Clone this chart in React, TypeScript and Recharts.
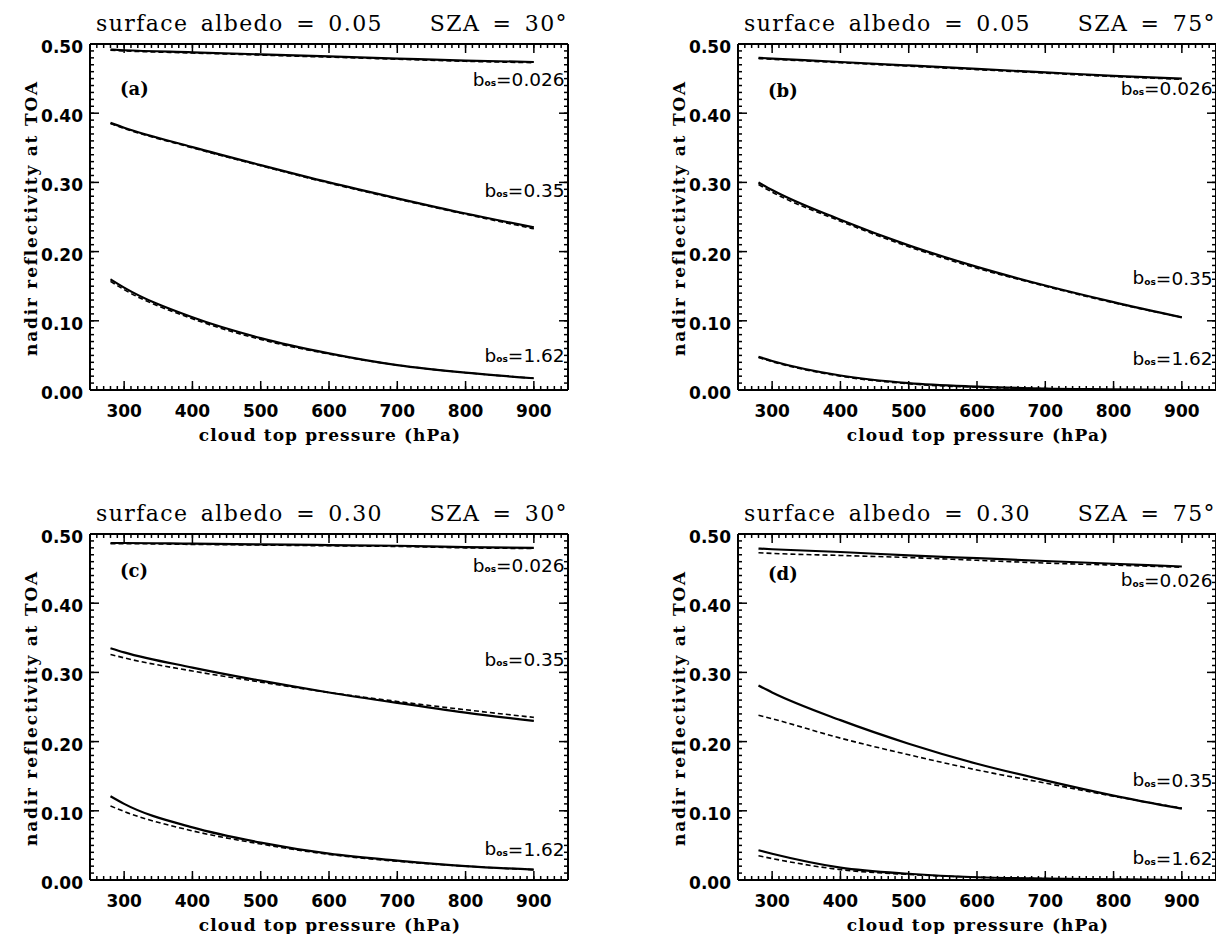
import { LineChart, Line, XAxis, YAxis, ReferenceDot } from 'recharts';

// cloud top pressure (hPa) sampled along every curve
const pressure = [280, 300, 400, 500, 600, 700, 800, 900];

// (a) surface albedo 0.05, SZA 30
const aSolid026 = [0.492, 0.491, 0.488, 0.485, 0.482, 0.479, 0.476, 0.474];
const aDash026 = [0.491, 0.490, 0.487, 0.484, 0.481, 0.478, 0.475, 0.473];
const aSolid035 = [0.386, 0.379, 0.351, 0.325, 0.300, 0.277, 0.255, 0.235];
const aDash035 = [0.385, 0.378, 0.350, 0.324, 0.299, 0.276, 0.254, 0.233];
const aSolid162 = [0.160, 0.148, 0.105, 0.075, 0.053, 0.036, 0.025, 0.017];
const aDash162 = [0.157, 0.145, 0.103, 0.073, 0.052, 0.036, 0.025, 0.017];

// (b) surface albedo 0.05, SZA 75
const bSolid026 = [0.480, 0.479, 0.474, 0.469, 0.464, 0.459, 0.454, 0.450];
const bDash026 = [0.479, 0.478, 0.473, 0.468, 0.463, 0.458, 0.453, 0.449];
const bSolid035 = [0.300, 0.289, 0.246, 0.209, 0.178, 0.151, 0.127, 0.105];
const bDash035 = [0.297, 0.286, 0.244, 0.207, 0.176, 0.150, 0.126, 0.105];
const bSolid162 = [0.048, 0.042, 0.021, 0.010, 0.005, 0.002, 0.001, 0.000];
const bDash162 = [0.047, 0.041, 0.020, 0.009, 0.004, 0.002, 0.000, 0.000];

// (c) surface albedo 0.30, SZA 30
const cSolid026 = [0.487, 0.487, 0.486, 0.485, 0.484, 0.483, 0.481, 0.480];
const cDash026 = [0.486, 0.486, 0.485, 0.484, 0.483, 0.482, 0.480, 0.479];
const cSolid035 = [0.335, 0.329, 0.307, 0.288, 0.271, 0.256, 0.242, 0.230];
const cDash035 = [0.326, 0.321, 0.302, 0.286, 0.271, 0.258, 0.246, 0.235];
const cSolid162 = [0.121, 0.110, 0.076, 0.054, 0.038, 0.028, 0.020, 0.015];
const cDash162 = [0.107, 0.099, 0.071, 0.052, 0.037, 0.027, 0.020, 0.015];

// (d) surface albedo 0.30, SZA 75
const dSolid026 = [0.479, 0.478, 0.474, 0.469, 0.465, 0.461, 0.457, 0.453];
const dDash026 = [0.473, 0.472, 0.469, 0.466, 0.462, 0.458, 0.455, 0.452];
const dSolid035 = [0.281, 0.271, 0.231, 0.197, 0.168, 0.144, 0.122, 0.103];
const dDash035 = [0.238, 0.233, 0.205, 0.181, 0.159, 0.140, 0.121, 0.104];
const dSolid162 = [0.043, 0.038, 0.018, 0.009, 0.004, 0.002, 0.001, 0.000];
const dDash162 = [0.035, 0.031, 0.015, 0.008, 0.004, 0.002, 0.001, 0.000];

// annotation heights (value units): panel tag, b=0.026, b=0.35, b=1.62
const aNotes = [0.436, 0.449, 0.289, 0.050];
const bNotes = [0.433, 0.436, 0.162, 0.046];
const cNotes = [0.447, 0.455, 0.319, 0.045];
const dNotes = [0.443, 0.434, 0.145, 0.032];
const bValues = ['0.026', '0.35', '1.62'];

const xMajor = [300, 400, 500, 600, 700, 800, 900];
const yMajor = ['0.00', '0.10', '0.20', '0.30', '0.40', '0.50'];

const xTicks: number[] = [];
for (let v = 260; v <= 940; v += 10) xTicks.push(v);
const yTicks: number[] = [];
for (let i = 0; i <= 50; i++) yTicks.push(i / 100);

const isMajorX = (v: number) => xMajor.includes(v);
const isMajorY = (v: number) => yMajor.includes(v.toFixed(2));

const tickFont = { fontFamily: 'DejaVu Sans', fontWeight: 700, fontSize: 17 };
const axisStroke = { stroke: '#000', strokeWidth: 2 };
const minorTick = { stroke: '#000', strokeWidth: 1.5 };

// recharts draws the short (minor) inward tick, these add the long ones and labels
const BottomTick = ({ x, y, payload }: any) => {
  const major = isMajorX(payload.value);
  return (
    <g>
      {major && <line x1={x} x2={x} y1={y} y2={y - 9} stroke="#000" strokeWidth={1.5} />}
      {major && (
        <text x={x} y={y + 27} textAnchor="middle" fill="#000" {...tickFont}>
          {payload.value}
        </text>
      )}
    </g>
  );
};

const TopTick = ({ x, y, payload }: any) =>
  isMajorX(payload.value) ? <line x1={x} x2={x} y1={y} y2={y + 9} stroke="#000" strokeWidth={1.5} /> : <g />;

const LeftTick = ({ x, y, payload }: any) => {
  const major = isMajorY(payload.value);
  return (
    <g>
      {major && <line x1={x} x2={x + 9} y1={y} y2={y} stroke="#000" strokeWidth={1.5} />}
      {major && (
        <text x={x - 7} y={y + 9} textAnchor="end" fill="#000" {...tickFont}>
          {payload.value.toFixed(2)}
        </text>
      )}
    </g>
  );
};

const RightTick = ({ x, y, payload }: any) =>
  isMajorY(payload.value) ? <line x1={x} x2={x - 9} y1={y} y2={y} stroke="#000" strokeWidth={1.5} /> : <g />;

const tagLabel = (tag: string) => ({ viewBox }: any) => (
  <text x={viewBox.x} y={viewBox.y} dominantBaseline="central" fontFamily="DejaVu Serif"
    fontWeight={700} fontSize={18} fill="#000">
    ({tag})
  </text>
);

const bLabel = (val: string) => ({ viewBox }: any) => (
  <text x={viewBox.x} y={viewBox.y} dominantBaseline="central" textAnchor="end"
    fontFamily="DejaVu Sans" fontSize={18.5} fill="#000">
    b<tspan fontSize={9} fontWeight={700} dy={4}>os</tspan>
    <tspan dy={-4}>={val}</tspan>
  </text>
);

interface PanelProps {
  left: number;
  top: number;
  albedo: string;
  sza: string;
  tag: string;
  solid: number[][];
  dashed: number[][];
  notes: number[];
}

const titleStyle = {
  position: 'absolute' as const, top: 13, fontFamily: 'DejaVu Serif', fontSize: 22,
  lineHeight: '22px', whiteSpace: 'pre' as const, letterSpacing: 1.4, wordSpacing: 4,
};

const Panel = ({ left, top, albedo, sza, tag, solid, dashed, notes }: PanelProps) => {
  const rows = pressure.map((p, i) => ({
    p,
    s0: solid[0][i], s1: solid[1][i], s2: solid[2][i],
    d0: dashed[0][i], d1: dashed[1][i], d2: dashed[2][i],
  }));

  return (
    <div style={{ position: 'absolute', left, top, width: 577, height: 446 }}>
      <div style={{ ...titleStyle, left: 96 }}>{`surface albedo = ${albedo}`}</div>
      <div style={{ ...titleStyle, right: 9 }}>{`SZA = ${sza}°`}</div>
      <div style={{ position: 'absolute', left: 31, top: 218, transform: 'translate(-50%, -50%) rotate(-90deg)',
        fontFamily: 'DejaVu Serif', fontWeight: 700, fontSize: 17, letterSpacing: 1.8, whiteSpace: 'nowrap' }}>
        nadir reflectivity at TOA
      </div>
      <div style={{ position: 'absolute', left: 330, top: 435, transform: 'translate(-50%, -50%)',
        fontFamily: 'DejaVu Serif', fontWeight: 700, fontSize: 17, letterSpacing: 1.1, whiteSpace: 'nowrap' }}>
        cloud top pressure (hPa)
      </div>
      <LineChart width={577} height={446} data={rows} margin={{ top: 43, right: 8, bottom: 0, left: 0 }}>
        <XAxis xAxisId="b" dataKey="p" type="number" domain={[250, 950]} ticks={xTicks} interval={0}
          height={56} tickSize={-4} tickMargin={4} tickLine={minorTick} axisLine={axisStroke} tick={<BottomTick />} />
        <XAxis xAxisId="t" dataKey="p" type="number" orientation="top" domain={[250, 950]} ticks={xTicks}
          interval={0} height={1} tickSize={-4} tickMargin={4} tickLine={minorTick} axisLine={axisStroke}
          tick={<TopTick />} />
        <YAxis yAxisId="l" type="number" domain={[0, 0.5]} ticks={yTicks} interval={0} width={90}
          tickSize={-4} tickMargin={4} tickLine={minorTick} axisLine={axisStroke} tick={<LeftTick />} />
        <YAxis yAxisId="r" type="number" orientation="right" domain={[0, 0.5]} ticks={yTicks} interval={0}
          width={1} tickSize={-4} tickMargin={4} tickLine={minorTick} axisLine={axisStroke} tick={<RightTick />} />

        {['s0', 's1', 's2'].map((k) => (
          <Line key={k} xAxisId="b" yAxisId="l" type="monotone" dataKey={k} stroke="#000" strokeWidth={2.2}
            dot={false} isAnimationActive={false} />
        ))}
        {['d0', 'd1', 'd2'].map((k) => (
          <Line key={k} xAxisId="b" yAxisId="l" type="monotone" dataKey={k} stroke="#000" strokeWidth={1.6}
            strokeDasharray="5 3" dot={false} isAnimationActive={false} />
        ))}
        {/* keeps the mirrored top/right axes attached to the same data */}
        <Line xAxisId="t" yAxisId="r" type="monotone" dataKey="s0" stroke="none" dot={false}
          activeDot={false} legendType="none" isAnimationActive={false} />

        <ReferenceDot xAxisId="b" yAxisId="l" x={294} y={notes[0]} r={0} stroke="none" label={tagLabel(tag)} />
        {bValues.map((v, i) => (
          <ReferenceDot key={v} xAxisId="b" yAxisId="l" x={945} y={notes[i + 1]} r={0} stroke="none"
            label={bLabel(v)} />
        ))}
      </LineChart>
    </div>
  );
};

export default function App() {
  return (
    <div style={{ position: 'absolute', left: 0, top: 0, width: 1216, height: 934, overflow: 'hidden',
      background: '#fff' }}>
      <Panel left={0} top={0} albedo="0.05" sza="30" tag="a"
        solid={[aSolid026, aSolid035, aSolid162]} dashed={[aDash026, aDash035, aDash162]} notes={aNotes} />
      <Panel left={648} top={0} albedo="0.05" sza="75" tag="b"
        solid={[bSolid026, bSolid035, bSolid162]} dashed={[bDash026, bDash035, bDash162]} notes={bNotes} />
      <Panel left={0} top={490} albedo="0.30" sza="30" tag="c"
        solid={[cSolid026, cSolid035, cSolid162]} dashed={[cDash026, cDash035, cDash162]} notes={cNotes} />
      <Panel left={648} top={490} albedo="0.30" sza="75" tag="d"
        solid={[dSolid026, dSolid035, dSolid162]} dashed={[dDash026, dDash035, dDash162]} notes={dNotes} />
    </div>
  );
}
